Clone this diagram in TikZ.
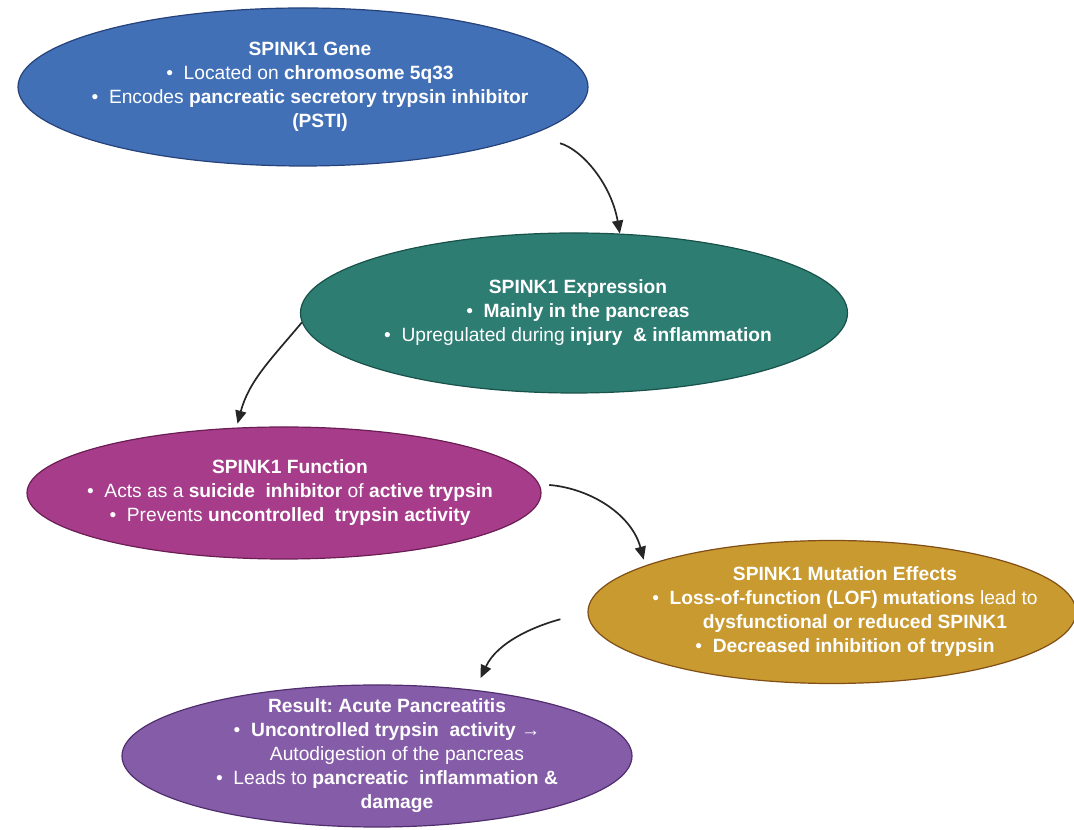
\documentclass[tikz,border=0pt]{standalone}
\usepackage{fontspec}
\setmainfont{Liberation Sans}
\usetikzlibrary{shapes.geometric, arrows.meta}
\frenchspacing

\definecolor{genefill}{RGB}{65,112,183}
\definecolor{generim}{RGB}{38,66,122}
\definecolor{exprfill}{RGB}{45,125,115}
\definecolor{exprrim}{RGB}{24,82,74}
\definecolor{funcfill}{RGB}{166,60,138}
\definecolor{funcrim}{RGB}{108,30,84}
\definecolor{mutfill}{RGB}{201,154,48}
\definecolor{mutrim}{RGB}{128,78,22}
\definecolor{resfill}{RGB}{133,92,168}
\definecolor{resrim}{RGB}{80,46,110}

\newcommand{\bulletpt}{\textbullet~~}

\begin{document}
\begin{tikzpicture}[x=1bp, y=1bp,
  bubble/.style={ellipse, line width=1.2bp, inner sep=0pt},
  bubtext/.style={text=white, align=center, font=\fontsize{19.2bp}{24bp}\selectfont},
  flow/.style={-{Triangle[length=13bp,width=11bp]}, line width=1.7bp, black!85}]

% Canvas
\useasboundingbox (0, 0) rectangle (1074, 830);

% Bubbles
\node[bubble, fill=genefill, draw=generim, minimum width=570bp, minimum height=158bp] (gene) at (303, 743) {};
\node[bubble, fill=exprfill, draw=exprrim, minimum width=547bp, minimum height=160bp] (expr) at (574, 517) {};
\node[bubble, fill=funcfill, draw=funcrim, minimum width=514bp, minimum height=132bp] (func) at (284, 337) {};
\node[bubble, fill=mutfill, draw=mutrim, minimum width=488bp, minimum height=143bp] (mut) at (832, 218) {};
\node[bubble, fill=resfill, draw=resrim, minimum width=510bp, minimum height=142bp] (res) at (377, 74) {};

% Texts
\node[bubtext] (gene-t) at ([xshift=7bp]gene.center) {\textbf{SPINK1 Gene}\\
  \bulletpt Located on \textbf{chromosome 5q33}\\
  \bulletpt Encodes \textbf{pancreatic secretory trypsin inhibitor}\\
  \hspace*{20bp}\textbf{(PSTI)}};
\node[bubtext] (expr-t) at ([xshift=4bp]expr.center) {\textbf{SPINK1 Expression}\\
  \bulletpt \textbf{Mainly in the pancreas}\\
  \bulletpt Upregulated during \textbf{injury\ \ \& inflammation}};
\node[bubtext] (func-t) at ([xshift=6bp]func.center) {\textbf{SPINK1 Function}\\
  \bulletpt Acts as a \textbf{suicide\ \ inhibitor} of \textbf{active trypsin}\\
  \bulletpt Prevents \textbf{uncontrolled\ \ trypsin activity}};
\node[bubtext] (mut-t) at ([xshift=13bp]mut.center) {\textbf{SPINK1 Mutation Effects}\\
  \bulletpt \textbf{Loss-of-function (LOF) mutations} lead to\\
  \hspace*{20bp}\textbf{dysfunctional or reduced SPINK1}\\
  \bulletpt \textbf{Decreased inhibition of trypsin}};
\node[bubtext] (res-t) at ([xshift=10bp]res.center) {\textbf{Result: Acute Pancreatitis}\\
  \bulletpt \textbf{Uncontrolled trypsin\ \ activity} →\\
  \hspace*{20bp}Autodigestion of the pancreas\\
  \bulletpt Leads to \textbf{pancreatic\ \ inflammation \&}\\
  \hspace*{20bp}\textbf{damage}};

% Arrows
\draw[flow, shorten <=31bp] (gene.-12) to[out=-15, in=100] (expr.60);
\draw[flow, shorten >=4bp] (expr.182) to[out=-130, in=75] (func.126);
\draw[flow, shorten <=10bp, shorten >=6bp] (func.2) to[out=-5, in=105] (mut.166);
\draw[flow, shorten <=28bp, shorten >=13bp] (mut.west) to[out=195, in=65] (res.34);

\end{tikzpicture}
\end{document}
